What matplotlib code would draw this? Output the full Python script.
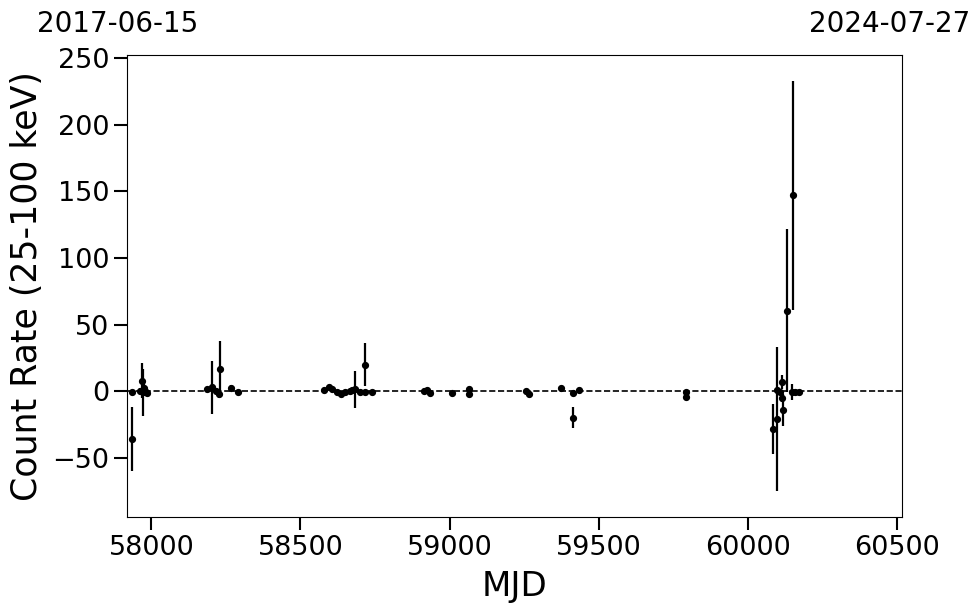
import numpy as np
import matplotlib
matplotlib.use('Agg')
import matplotlib.pyplot as plt

# light curve values
mjd = [57936, 57936, 57962, 57968, 57972, 57976, 57981, 57986,
       58188, 58204, 58216, 58225, 58231, 58267, 58289,
       58580, 58595, 58606, 58623, 58636, 58651, 58665, 58672, 58684,
       58701, 58718, 58718, 58740,
       58914, 58925, 58936, 59009, 59065, 59065,
       59256, 59267, 59373, 59415, 59415, 59435,
       59794, 59794,
       60086, 60099, 60099, 60110, 60116, 60116, 60120, 60133,
       60149, 60154, 60160, 60174]
rate = [-0.7, -35.7, 0.0, 8.0, -1.0, 2.0, -0.5, -1.5,
        1.8, 3.0, 0.0, -2.0, 16.8, 2.5, -0.7,
        0.5, 3.0, 1.5, -0.5, -2.0, -0.7, 0.0, 0.5, 1.3,
        -1.0, 20.0, -1.0, -0.5,
        0.0, 0.5, -1.5, -1.2, 1.5, -2.0,
        0.0, -2.0, 2.3, -1.2, -20.0, 0.5,
        -0.7, -4.5,
        -28.7, -21.0, 0.5, -0.7, 6.8, -5.0, -14.0, 60.5,
        -0.7, 147.0, -1.0, -1.0]
err = [1.5, 24.0, 2.0, 13.5, 17.5, 3.0, 2.0, 2.0,
       1.5, 20.0, 2.0, 3.0, 21.0, 2.0, 1.5,
       1.5, 1.5, 1.5, 1.5, 1.5, 1.5, 1.5, 1.5, 14.0,
       1.5, 16.5, 1.5, 1.5,
       1.5, 1.5, 1.5, 1.5, 1.5, 1.5,
       1.5, 1.5, 1.5, 1.5, 8.0, 1.5,
       1.5, 1.5,
       18.7, 54.0, 2.0, 2.0, 5.0, 3.0, 12.0, 61.0,
       6.0, 86.0, 2.0, 1.5]

start_label, end_label = '2017-06-15', '2024-07-27'
mjd_start, mjd_end = 57919, 60518

fig = plt.figure(figsize=(9.8, 6.13), dpi=100)
ax = fig.add_axes([0.1299, 0.1571, 0.7905, 0.7532])

ax.errorbar(mjd, rate, yerr=err, fmt='o', color='k', ms=4.2,
            elinewidth=1.6, capsize=0)
ax.axhline(0, color='k', ls='--', lw=1.2)

ax.set_xlim(mjd_start, mjd_end)
ax.set_ylim(-94.3, 252.5)
ax.set_xticks([58000, 58500, 59000, 59500, 60000, 60500])
ax.set_yticks([-50, 0, 50, 100, 150, 200, 250])
ax.tick_params(labelsize=19.5, length=9.5, width=1.5)

ax.set_xlabel('MJD', fontsize=24.5, labelpad=6.5)
ax.set_ylabel('Count Rate (25-100 keV)', fontsize=25)
ax.yaxis.set_label_coords(-0.1076, 0.5)

# dates of the axis ends
fig.text(118 / 980, 1 - 32 / 613, start_label, ha='center', va='baseline', fontsize=20)
fig.text(890 / 980, 1 - 32 / 613, end_label, ha='center', va='baseline', fontsize=20)

plt.savefig('out.png', dpi=100)
plt.close()
